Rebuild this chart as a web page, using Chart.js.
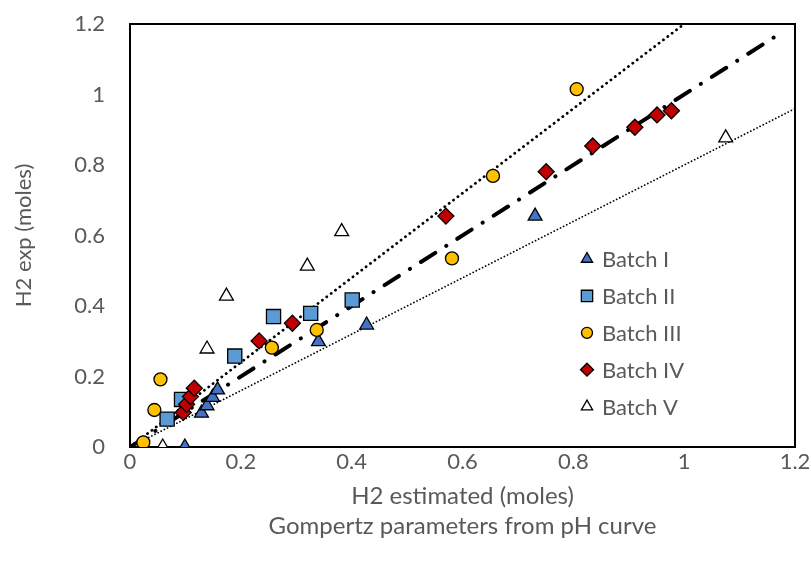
<!DOCTYPE html>
<html>
<head>
<meta charset="utf-8">
<script src="https://cdn.jsdelivr.net/npm/chart.js@4/dist/chart.umd.min.js"></script>
<style>
  html, body { margin:0; padding:0; background:#fff; }
  #wrap { width:811px; height:563px; }
</style>
</head>
<body>
<div id="wrap"><canvas id="chart" width="811" height="563"></canvas></div>
<script>
// values
var batch1X = [0.099, 0.129, 0.139, 0.149, 0.158, 0.340, 0.427, 0.731];
var batch1Y = [0.000, 0.096, 0.117, 0.141, 0.162, 0.299, 0.346, 0.655];

var batch2X = [0.067, 0.093, 0.189, 0.259, 0.326, 0.401];
var batch2Y = [0.079, 0.135, 0.258, 0.370, 0.379, 0.417];

var batch3X = [0.024, 0.044, 0.055, 0.256, 0.337, 0.581, 0.655, 0.806];
var batch3Y = [0.013, 0.105, 0.192, 0.282, 0.332, 0.535, 0.769, 1.015];

var batch4X = [0.096, 0.102, 0.109, 0.116, 0.233, 0.293, 0.570, 0.751, 0.835, 0.911, 0.951, 0.977];
var batch4Y = [0.098, 0.121, 0.143, 0.167, 0.301, 0.351, 0.655, 0.781, 0.854, 0.907, 0.942, 0.954];

var batch5X = [0.059, 0.139, 0.174, 0.320, 0.382, 1.075];
var batch5Y = [0.000, 0.278, 0.428, 0.513, 0.611, 0.877];

// reference lines
var lineEqualX = [0, 1.18];
var lineEqualY = [0, 1.18];
var lineUpperX = [0, 1.0];
var lineUpperY = [0, 1.2];
var lineLowerX = [0, 1.2];
var lineLowerY = [0, 0.96];

var axisTicks = [0, 0.2, 0.4, 0.6, 0.8, 1, 1.2];
var batchLabels = ['Batch I', 'Batch II', 'Batch III', 'Batch IV', 'Batch V'];

var FONT = 'Lato, "Liberation Sans", sans-serif';
var GREY = '#595959';

function pts(xs, ys){
  var out = [];
  for (var i=0;i<xs.length;i++) out.push({x: xs[i], y: ys[i]});
  return out;
}

function fmt(v){ return String(Math.round(v*10)/10); }

var markerDefs = [
  {style:'triangle', fill:'#4472c4', r:8},
  {style:'rect',     fill:'#5b9bd5', r:10},
  {style:'circle',   fill:'#ffc000', r:6.5},
  {style:'rectRot',  fill:'#c00000', r:8},
  {style:'triangle', fill:'#ffffff', r:8}
];
var seriesX = [batch1X, batch2X, batch3X, batch4X, batch5X];
var seriesY = [batch1Y, batch2Y, batch3Y, batch4Y, batch5Y];

var datasets = [];
for (var s=0;s<batchLabels.length;s++){
  var m = markerDefs[s];
  datasets.push({
    label: batchLabels[s],
    data: pts(seriesX[s], seriesY[s]),
    pointStyle: m.style,
    pointRadius: m.r,
    pointHoverRadius: m.r,
    pointBackgroundColor: m.fill,
    pointBorderColor: '#000',
    pointBorderWidth: 1.3,
    backgroundColor: m.fill,
    borderColor: '#000',
    showLine: false,
    inLegend: true,
    order: 5 - s
  });
}

datasets.push({
  label: 'y=x', data: pts(lineEqualX, lineEqualY), showLine: true, pointRadius: 0,
  borderColor: '#000', borderWidth: 4, borderCapStyle: 'round',
  borderDash: [17, 13, 0.1, 13], order: 20
});
datasets.push({
  label: 'upper', data: pts(lineUpperX, lineUpperY), showLine: true, pointRadius: 0,
  borderColor: '#000', borderWidth: 2.8, borderCapStyle: 'round',
  borderDash: [0.1, 5.4], order: 21
});
datasets.push({
  label: 'lower', data: pts(lineLowerX, lineLowerY), showLine: true, pointRadius: 0,
  borderColor: '#000', borderWidth: 1.7, borderCapStyle: 'round',
  borderDash: [0.1, 3.4], order: 22
});

var plotBox = {
  id: 'plotBox',
  beforeDatasetsDraw: function(chart){
    var a = chart.chartArea, ctx = chart.ctx;
    ctx.save();
    ctx.strokeStyle = '#000';
    ctx.lineWidth = 2;
    ctx.strokeRect(a.left, a.top, a.right - a.left, a.bottom - a.top);
    ctx.restore();
  }
};

var legendBox = {
  id: 'legendBox',
  afterDatasetsDraw: function(chart){
    var ctx = chart.ctx;
    var x0 = 587, y0 = 259, step = 36.9;
    var row = 0;
    ctx.save();
    ctx.font = '22px ' + FONT;
    ctx.textBaseline = 'middle';
    chart.data.datasets.forEach(function(ds){
      if (!ds.inLegend) return;
      var y = y0 + row*step;
      ctx.fillStyle = ds.pointBackgroundColor;
      ctx.strokeStyle = '#000';
      ctx.lineWidth = 1.3;
      var r = ds.pointStyle === 'rect' ? 8 : (ds.pointStyle === 'circle' ? 5.5 : 6.5);
      Chart.helpers.drawPoint(ctx, {pointStyle: ds.pointStyle, radius: r, rotation: 0, borderWidth: 1.3}, x0, y);
      ctx.fillStyle = GREY;
      ctx.textAlign = 'left';
      ctx.fillText(ds.label, 602, y + 1);
      row++;
    });
    ctx.restore();
  }
};

new Chart(document.getElementById('chart'), {
  type: 'scatter',
  data: { datasets: datasets },
  options: {
    responsive: false,
    animation: false,
    devicePixelRatio: 1,
    layout: { padding: 0 },
    plugins: { legend: { display: false }, tooltip: { enabled: false } },
    scales: {
      x: {
        type: 'linear', min: 0, max: 1.2,
        afterBuildTicks: function(s){ s.ticks = axisTicks.map(function(v){ return {value: v}; }); },
        afterFit: function(s){ s.height = 116; s.paddingLeft = 0; s.paddingRight = 16; },
        grid: { display: false, drawTicks: false },
        border: { display: false },
        ticks: { color: GREY, font: { family: FONT, size: 22 }, padding: 2, maxRotation: 0,
                 callback: function(v){ return fmt(v); } },
        title: { display: true, text: ['H2 estimated (moles)', 'Gompertz parameters from pH curve'],
                 color: GREY, font: { family: FONT, size: 24, lineHeight: 1.25 }, padding: { top: 0, bottom: 22 } }
      },
      y: {
        type: 'linear', min: 0, max: 1.2,
        afterBuildTicks: function(s){ s.ticks = axisTicks.map(function(v){ return {value: v}; }); },
        afterFit: function(s){ s.width = 130; s.paddingTop = 24; s.paddingBottom = 0; },
        grid: { display: false, drawTicks: false },
        border: { display: false },
        ticks: { color: GREY, font: { family: FONT, size: 22 }, padding: 25,
                 callback: function(v){ return fmt(v); } },
        title: { display: true, text: 'H2 exp (moles)', color: GREY,
                 font: { family: FONT, size: 22 }, padding: { top: 11, bottom: 0 } }
      }
    }
  },
  plugins: [plotBox, legendBox]
});
</script>
</body>
</html>
